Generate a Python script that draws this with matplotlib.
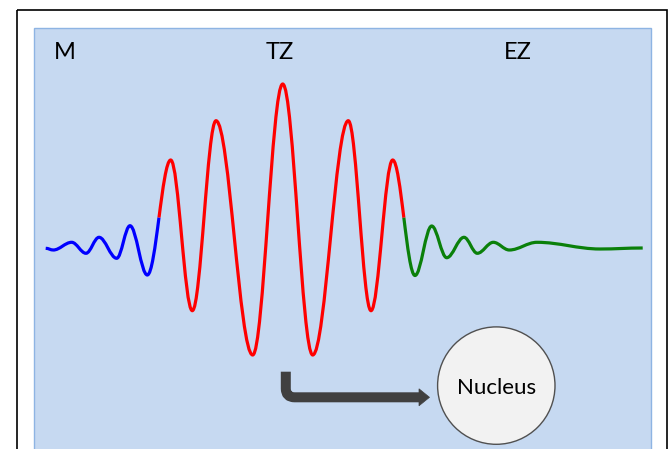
import numpy as np
import matplotlib
matplotlib.use("Agg")
import matplotlib.pyplot as plt
from matplotlib.path import Path
from matplotlib.patches import PathPatch, Rectangle, Circle, Polygon

# ---- data (pixel coordinates, y downward) ----
wave_x = [45.7, 53.3, 71.7, 86.0, 99.0, 116.7, 130.0, 147.3, 170.7, 192.3,
          216.0, 252.7, 282.7, 312.7, 348.3, 371.0, 392.7, 415.0, 431.7,
          446.7, 464.0, 477.3, 493.3, 509.3, 537.0, 600.0, 642.7]
wave_y = [248.3, 250.0, 242.3, 253.3, 237.3, 258.3, 225.7, 275.0, 160.0,
          310.7, 120.7, 355.0, 84.0, 355.0, 120.7, 310.7, 160.0, 275.5,
          226.0, 257.7, 237.3, 253.3, 242.3, 250.0, 242.3, 249.0, 248.0]
blue_end = 7      # index of last blue extremum (split half way to next)
green_start = 17  # index of first green extremum
zone_labels = ["M", "TZ", "EZ"]
zone_label_x = [65, 280, 518]
nucleus_label = "Nucleus"

W, H = 671, 449
fig = plt.figure(figsize=(W / 100, H / 100), dpi=100)
ax = fig.add_axes([0, 0, 1, 1])
ax.set_xlim(0, W)
ax.set_ylim(H, 0)
ax.axis("off")

# frames
ax.add_patch(Rectangle((17, 10), 650, 500, fill=False, ec="black", lw=1.2, zorder=1))
ax.add_patch(Rectangle((33.7, 27.7), 617, 500, fc="#c6d9f1", ec="#8eb4e3", lw=1.0, zorder=2))

X = np.array(wave_x)
Y = np.array(wave_y)


def bez(i, k=0.36):
    x0, y0, x1, y1 = X[i], Y[i], X[i + 1], Y[i + 1]
    d = x1 - x0
    return np.array([[x0, y0], [x0 + k * d, y0], [x1 - k * d, y1], [x1, y1]])


def split(P):
    p01 = (P[0] + P[1]) / 2
    p12 = (P[1] + P[2]) / 2
    p23 = (P[2] + P[3]) / 2
    a = (p01 + p12) / 2
    b = (p12 + p23) / 2
    m = (a + b) / 2
    return np.array([P[0], p01, a, m]), np.array([m, b, p23, P[3]])


def make_path(segs):
    verts = [segs[0][0]]
    codes = [Path.MOVETO]
    for s in segs:
        verts += list(s[1:])
        codes += [Path.CURVE4] * 3
    return Path(verts, codes)


n = len(X)
lb, rb = split(bez(blue_end))
lg, rg = split(bez(green_start - 1))
blue_segs = [bez(i) for i in range(0, blue_end)] + [lb]
red_segs = [rb] + [bez(i) for i in range(blue_end + 1, green_start - 1)] + [lg]
green_segs = [rg] + [bez(i) for i in range(green_start, n - 1)]

for segs, col in [(blue_segs, "#0000ff"), (red_segs, "#ff0000"), (green_segs, "#0a800a")]:
    ax.add_patch(PathPatch(make_path(segs), fill=False, ec=col, lw=2.3,
                           capstyle="butt", joinstyle="round", zorder=4))

# zone labels
for lab, x in zip(zone_labels, zone_label_x):
    ax.text(x, 58.8, lab, ha="center", va="baseline", fontsize=17,
            family=["Lato", "DejaVu Sans"], color="black", zorder=5)

# arrow
arrow_col = "#404040"
av = [(285.8, 371.7), (285.8, 388.5), (285.8, 397.3), (294.6, 397.3), (420.0, 397.3)]
ac = [Path.MOVETO, Path.LINETO, Path.CURVE3, Path.CURVE3, Path.LINETO]
ax.add_patch(PathPatch(Path(av, ac), fill=False, ec=arrow_col, lw=7.2,
                       capstyle="butt", joinstyle="round", zorder=4))
ax.add_patch(Polygon([(419, 388.8), (429.5, 397.3), (419, 405.8)], closed=True,
                     fc=arrow_col, ec=arrow_col, lw=0.5, zorder=4))

# nucleus
ax.add_patch(Circle((496.3, 385.6), 58.7, fc="#f2f2f2", ec="#505050", lw=1.0, zorder=4))
ax.text(496.3, 394.3, nucleus_label, ha="center", va="baseline", fontsize=16,
        family=["Lato", "DejaVu Sans"], color="black", zorder=5)

fig.savefig("out.png", dpi=100)
